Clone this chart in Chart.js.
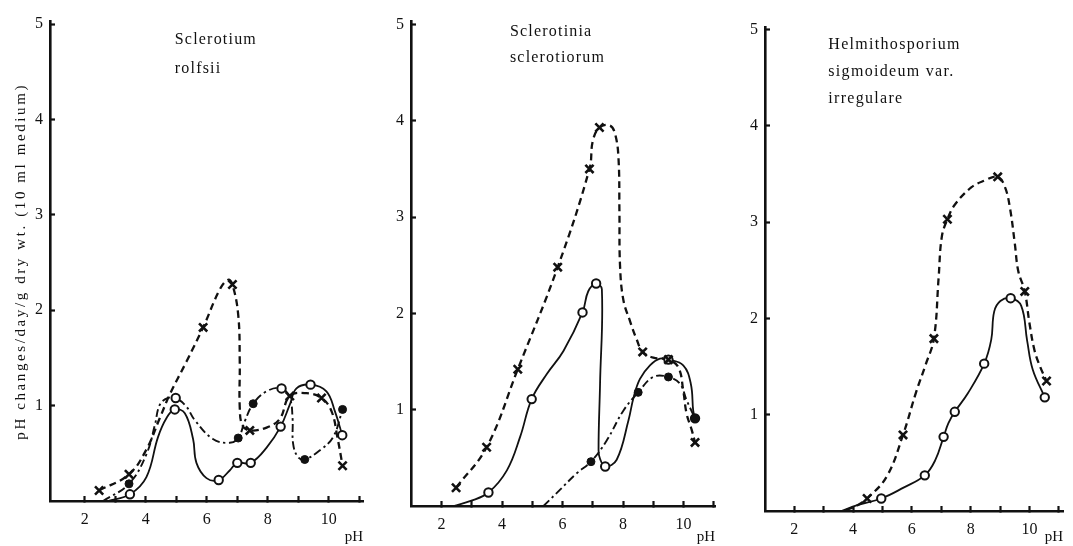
<!DOCTYPE html>
<html><head><meta charset="utf-8">
<script src="https://cdn.jsdelivr.net/npm/chart.js@4.4.1/dist/chart.umd.min.js"></script>
<style>
html,body{margin:0;padding:0;background:#fff;}
#wrap{position:relative;width:1073px;height:546px;overflow:hidden;background:#fff;}
canvas{position:absolute;left:0;top:0;}
</style></head><body>
<div id="wrap">
<canvas id="c1" width="1073" height="546"></canvas>
<canvas id="c2" width="1073" height="546"></canvas>
<canvas id="c3" width="1073" height="546"></canvas>
</div>
<script>
// ---------- text & ticks ----------
const yAxisTitle = 'pH changes/day/g dry wt. (10 ml medium)';
const xAxisTitle = 'pH';
const xTickMarks = [2, 3, 4, 5, 6, 7, 8, 9, 10, 11];
const xTickLabels = [2, 4, 6, 8, 10];
const yTickLabels = [1, 2, 3, 4, 5];
const p1Name = ['Sclerotium', 'rolfsii'];
const p2Name = ['Sclerotinia', 'sclerotiorum'];
const p3Name = ['Helmithosporium', 'sigmoideum var.', 'irregulare'];

// ---------- Panel 1: Sclerotium rolfsii ----------
const p1DashPH  = [2.47, 3.45, 4.02, 4.46, 4.79, 5.33, 5.88, 6.43, 6.70, 6.84, 7.03, 7.08, 7.08, 7.17, 7.41, 7.96, 8.39, 8.72, 9.27, 9.76, 10.09, 10.28, 10.45];
const p1DashVal = [0.11, 0.28, 0.54, 0.87, 1.12, 1.46, 1.82, 2.22, 2.32, 2.27, 1.95, 1.46, 0.98, 0.79, 0.74, 0.77, 0.86, 1.10, 1.13, 1.08, 0.94, 0.67, 0.37];
const p1SolidPH  = [2.75, 3.48, 4.02, 4.40, 4.68, 4.95, 5.28, 5.55, 5.66, 5.99, 6.39, 6.75, 7.00, 7.44, 7.96, 8.42, 8.72, 8.94, 9.40, 9.92, 10.20, 10.44];
const p1SolidVal = [0.00, 0.07, 0.25, 0.67, 0.87, 0.96, 0.92, 0.65, 0.40, 0.24, 0.22, 0.32, 0.40, 0.40, 0.56, 0.78, 1.01, 1.18, 1.22, 1.15, 0.94, 0.69];
const p1DotPH  = [2.60, 3.45, 4.02, 4.30, 4.46, 4.73, 4.98, 5.33, 5.60, 6.20, 6.75, 7.03, 7.25, 7.52, 7.96, 8.45, 8.72, 8.81, 8.83, 8.99, 9.21, 9.70, 10.14, 10.45];
const p1DotVal = [0.00, 0.18, 0.49, 0.80, 1.01, 1.08, 1.08, 0.99, 0.85, 0.65, 0.61, 0.66, 0.84, 1.02, 1.15, 1.18, 1.08, 0.87, 0.60, 0.46, 0.435, 0.53, 0.67, 0.96];
const p1CrossPH  = [2.47, 3.45, 5.88, 6.84, 7.41, 8.72, 9.76, 10.45];
const p1CrossVal = [0.11, 0.28, 1.82, 2.27, 0.74, 1.10, 1.08, 0.37];
const p1OpenPH  = [3.48, 4.95, 4.98, 6.39, 7.00, 7.44, 8.42, 8.45, 9.40, 10.44];
const p1OpenVal = [0.07, 0.96, 1.08, 0.22, 0.40, 0.40, 0.78, 1.18, 1.22, 0.69];
const p1FillPH  = [3.45, 7.03, 7.52, 9.21, 10.45];
const p1FillVal = [0.18, 0.66, 1.02, 0.435, 0.96];

// ---------- Panel 2: Sclerotinia sclerotiorum ----------
const p2DashPH  = [2.48, 3.49, 4.52, 5.84, 6.89, 7.00, 7.22, 7.57, 7.74, 7.85, 7.88, 7.90, 8.01, 8.23, 8.45, 8.65, 9.00, 9.50, 9.83, 9.99, 10.10, 10.27, 10.38];
const p2DashVal = [0.19, 0.61, 1.42, 2.48, 3.50, 3.79, 3.93, 3.95, 3.86, 3.61, 3.07, 2.50, 2.14, 1.92, 1.73, 1.60, 1.54, 1.52, 1.44, 1.20, 0.96, 0.79, 0.66];
const p2SolidPH  = [2.40, 2.94, 3.55, 4.16, 4.60, 4.98, 5.48, 6.03, 6.66, 6.85, 7.11, 7.30, 7.24, 7.19, 7.24, 7.41, 7.79, 8.18, 8.35, 8.56, 8.89, 9.22, 9.50, 9.99, 10.24, 10.32, 10.38];
const p2SolidVal = [0.00, 0.05, 0.14, 0.37, 0.72, 1.11, 1.37, 1.61, 2.01, 2.23, 2.31, 2.25, 1.27, 0.58, 0.49, 0.41, 0.48, 0.89, 1.13, 1.32, 1.46, 1.53, 1.52, 1.46, 1.27, 0.99, 0.91];
const p2DotPH  = [5.37, 5.92, 6.47, 6.94, 7.46, 8.01, 8.50, 9.00, 9.50, 9.88, 10.10, 10.38];
const p2DotVal = [0.00, 0.17, 0.34, 0.46, 0.68, 0.99, 1.18, 1.34, 1.34, 1.27, 1.10, 0.91];
const p2CrossPH  = [2.48, 3.49, 4.52, 5.84, 6.89, 7.22, 8.65, 9.50, 10.38];
const p2CrossVal = [0.19, 0.61, 1.42, 2.48, 3.50, 3.93, 1.60, 1.52, 0.66];
const p2OpenPH  = [3.55, 4.98, 6.66, 7.11, 7.41, 9.50, 10.38];
const p2OpenVal = [0.14, 1.11, 2.01, 2.31, 0.41, 1.52, 0.91];
const p2FillPH  = [6.94, 8.50, 9.50, 10.38];
const p2FillVal = [0.46, 1.18, 1.34, 0.91];

// ---------- Panel 3: Helmithosporium sigmoideum var. irregulare ----------
const p3DashPH  = [3.77, 4.15, 4.48, 5.15, 5.70, 6.14, 6.47, 6.75, 6.91, 7.02, 7.21, 7.46, 8.02, 8.46, 8.92, 9.17, 9.34, 9.50, 9.62, 9.84, 10.00, 10.17, 10.36, 10.58];
const p3DashVal = [0.01, 0.06, 0.13, 0.36, 0.79, 1.23, 1.52, 1.79, 2.42, 2.85, 3.03, 3.18, 3.36, 3.43, 3.47, 3.36, 3.14, 2.78, 2.49, 2.28, 1.95, 1.67, 1.50, 1.35];
const p3SolidPH  = [3.60, 4.15, 4.96, 5.70, 6.44, 6.80, 7.08, 7.24, 7.46, 7.90, 8.46, 8.70, 8.80, 9.01, 9.36, 9.72, 9.92, 10.11, 10.52];
const p3SolidVal = [0.00, 0.06, 0.13, 0.24, 0.37, 0.53, 0.77, 0.91, 1.03, 1.22, 1.53, 1.78, 2.07, 2.18, 2.21, 2.13, 1.77, 1.47, 1.18];
const p3CrossPH  = [4.48, 5.70, 6.75, 7.21, 8.92, 9.84, 10.58];
const p3CrossVal = [0.13, 0.79, 1.79, 3.03, 3.47, 2.28, 1.35];
const p3OpenPH  = [4.96, 6.44, 7.08, 7.46, 8.46, 9.36, 10.52];
const p3OpenVal = [0.13, 0.37, 0.77, 1.03, 1.53, 2.21, 1.18];

// ---------- drawing ----------
const SERIF = '"Liberation Serif", "DejaVu Serif", serif';
const INK = '#111';
const W = 1073, H = 546;

function pts(xs, ys) { return xs.map((x, i) => ({ x: x, y: ys[i] })); }

const nameText = {
  id: 'nameText',
  afterDraw(chart, args, o) {
    if (!o || !o.lines) return;
    const ctx = chart.ctx;
    ctx.save();
    ctx.font = o.size + 'px ' + SERIF;
    ctx.fillStyle = INK;
    ctx.textBaseline = 'middle';
    ctx.textAlign = 'left';
    if ('letterSpacing' in ctx) ctx.letterSpacing = o.spacing + 'px';
    const x = chart.scales.x.getPixelForValue(o.x);
    const y0 = chart.scales.y.getPixelForValue(o.y);
    o.lines.forEach((t, i) => ctx.fillText(t, x, y0 + i * o.gap));
    ctx.restore();
  }
};
// wide letter spacing for the rotated y-axis title only (drawn in the grid layer, before datasets)
const spacing = {
  id: 'spacing',
  beforeDraw(chart, args, o) { if (o && o.px && 'letterSpacing' in chart.ctx) chart.ctx.letterSpacing = o.px + 'px'; },
  beforeDatasetsDraw(chart) { if ('letterSpacing' in chart.ctx) chart.ctx.letterSpacing = '0px'; }
};

function lineDs(data, width, dash) {
  return { data: data, showLine: true, pointRadius: 0, borderColor: INK, borderWidth: width,
           borderDash: dash, tension: 0.4, fill: false, order: 3 };
}
function crossDs(data) {
  return { data: data, showLine: false, pointStyle: 'crossRot', pointRadius: 5.8, pointBorderWidth: 2.6,
           pointBorderColor: INK, pointBackgroundColor: INK, order: 1 };
}
function openDs(data) {
  return { data: data, showLine: false, pointStyle: 'circle', pointRadius: 4.2, pointBorderWidth: 2,
           pointBorderColor: INK, pointBackgroundColor: '#fff', order: 2 };
}
function fillDs(data) {
  return { data: data, showLine: false, pointStyle: 'circle', pointRadius: 4, pointBorderWidth: 1,
           pointBorderColor: INK, pointBackgroundColor: INK, order: 1 };
}

function makePanel(id, cfg) {
  const ds = [];
  if (cfg.dash) ds.push(lineDs(cfg.dash, 2.3, [7, 4.5]));
  if (cfg.solid) ds.push(lineDs(cfg.solid, 1.8, []));
  if (cfg.dot) ds.push(lineDs(cfg.dot, 1.9, [8, 3.5, 2.4, 3.5]));
  if (cfg.cross) ds.push(crossDs(cfg.cross));
  if (cfg.open) ds.push(openDs(cfg.open));
  if (cfg.fill) ds.push(fillDs(cfg.fill));
  return new Chart(document.getElementById(id), {
    type: 'scatter',
    data: { datasets: ds },
    plugins: [nameText, spacing],
    options: {
      responsive: false, animation: false, events: [], devicePixelRatio: 1,
      layout: { padding: { left: cfg.left - cfg.yw, right: W - cfg.right, top: cfg.top, bottom: 0 } },
      plugins: {
        legend: { display: false }, tooltip: { enabled: false },
        nameText: cfg.name,
        spacing: { px: cfg.spacing || 0 }
      },
      scales: {
        x: {
          type: 'linear', min: cfg.xMin, max: cfg.xMax,
          afterBuildTicks: s => { s.ticks = xTickMarks.map(v => ({ value: v })); },
          afterFit: s => { s.height = H - cfg.bottom; },
          border: { display: true, color: INK, width: 2.6, z: 1 },
          grid: { display: true, drawOnChartArea: false, drawTicks: true, tickLength: -5, tickWidth: 2.2, color: INK, z: 1 },
          ticks: {
            autoSkip: false, maxRotation: 0, padding: 14, color: INK, z: 1,
            font: { family: SERIF, size: 16 },
            callback: v => xTickLabels.includes(v) ? String(v) : ''
          },
          title: { display: true, text: xAxisTitle, align: 'end', color: INK,
                   font: { family: SERIF, size: 15 }, padding: { top: 0, bottom: 0 } }
        },
        y: {
          type: 'linear', min: 0, max: cfg.yMax,
          afterBuildTicks: s => { s.ticks = yTickLabels.map(v => ({ value: v })); },
          afterFit: s => { s.width = cfg.yw; },
          border: { display: true, color: INK, width: 2.6 },
          grid: { display: true, drawOnChartArea: false, drawTicks: true, tickLength: -5, tickWidth: 2.2, color: INK },
          ticks: {
            autoSkip: false, padding: 12, color: INK, z: 1,
            font: { family: SERIF, size: 16 },
            callback: v => String(v)
          },
          title: cfg.yTitle ? { display: true, text: cfg.yTitle, color: INK,
                   font: { family: SERIF, size: 15 }, padding: { top: 12, bottom: 0 } } : { display: false }
        }
      }
    }
  });
}

makePanel('c1', {
  left: 50, right: 363, top: 16, bottom: 501, xMin: 0.86, xMax: 11.12, yMax: 5.026, yw: 50,
  yTitle: yAxisTitle, spacing: 2.6,
  dash: pts(p1DashPH, p1DashVal), solid: pts(p1SolidPH, p1SolidVal), dot: pts(p1DotPH, p1DotVal),
  cross: pts(p1CrossPH, p1CrossVal), open: pts(p1OpenPH, p1OpenVal), fill: pts(p1FillPH, p1FillVal),
  name: { lines: p1Name, x: 4.95, y: 4.83, gap: 29, size: 16, spacing: 1.2 }
});
makePanel('c2', {
  left: 411, right: 715, top: 19, bottom: 506, xMin: 0.99, xMax: 11.04, yMax: 5.03, yw: 30,
  dash: pts(p2DashPH, p2DashVal), solid: pts(p2SolidPH, p2SolidVal), dot: pts(p2DotPH, p2DotVal),
  cross: pts(p2CrossPH, p2CrossVal), open: pts(p2OpenPH, p2OpenVal), fill: pts(p2FillPH, p2FillVal),
  name: { lines: p2Name, x: 4.26, y: 4.92, gap: 26, size: 16, spacing: 1.2 }
});
makePanel('c3', {
  left: 765, right: 1071, top: 27, bottom: 511, xMin: 1.007, xMax: 11.14, yMax: 5.026, yw: 30,
  dash: pts(p3DashPH, p3DashVal), solid: pts(p3SolidPH, p3SolidVal),
  cross: pts(p3CrossPH, p3CrossVal), open: pts(p3OpenPH, p3OpenVal),
  name: { lines: p3Name, x: 3.16, y: 4.84, gap: 27, size: 16, spacing: 1.3 }
});
</script>
</body></html>
